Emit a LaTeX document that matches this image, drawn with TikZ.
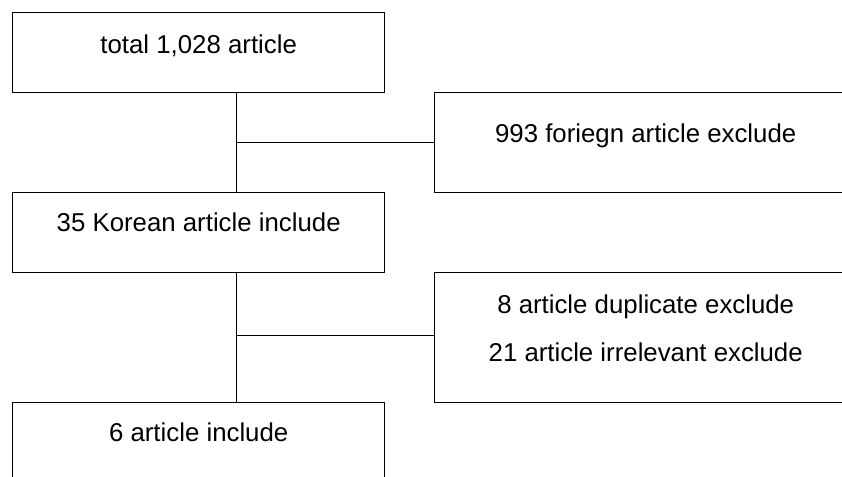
\documentclass[tikz,border=0pt]{standalone}
\usepackage{fontspec}
\setmainfont{Liberation Sans}
\usetikzlibrary{calc}
\begin{document}
\begin{tikzpicture}[x=1pt,y=-1pt,
  box/.style={draw=black, line width=0.8pt, rectangle, inner sep=0pt, anchor=north west},
  txt/.style={anchor=base, inner sep=0pt, font=\fontsize{25.8}{30}\selectfont},
  conn/.style={draw=black, line width=0.8pt}]
\useasboundingbox (0,0) rectangle (842,476);
\clip (0,0) rectangle (842,476);
\fill[white] (0,0) rectangle (842,476);
% boxes
\node[box, minimum width=372pt, minimum height=79.4pt] (b1) at (12.3,12.3) {};
\node[box, minimum width=422pt, minimum height=100pt] (b2) at (434.3,92.3) {};
\node[box, minimum width=372pt, minimum height=79.4pt] (b3) at (12.3,192.3) {};
\node[box, minimum width=422pt, minimum height=130pt] (b4) at (434.3,272.3) {};
\node[box, minimum width=372pt, minimum height=100pt] (b5) at (12.3,402.3) {};
% texts
\node[txt] (t1) at (b1.north |- 0,53.3) {total 1,028 article};
\node[txt] (t2) at (b2.north |- 0,142.7) {993 foriegn article exclude};
\node[txt] (t3) at (b3.north |- 0,231.7) {35 Korean article include};
\node[txt] (t4a) at (b4.north |- 0,313.3) {8 article duplicate exclude};
\node[txt] (t4b) at (b4.north |- 0,361.7) {21 article irrelevant exclude};
\node[txt] (t5) at (b5.north |- 0,441.7) {6 article include};
% connectors
\coordinate (j1) at (236.3,142.3);
\coordinate (j2) at (236.3,335.7);
\draw[conn] (j1 |- b1.south) -- (j1 |- b3.north);
\draw[conn] (j1) -- (j1 -| b2.west);
\draw[conn] (j2 |- b3.south) -- (j2 |- b5.north);
\draw[conn] (j2) -- (j2 -| b4.west);
\end{tikzpicture}
\end{document}
